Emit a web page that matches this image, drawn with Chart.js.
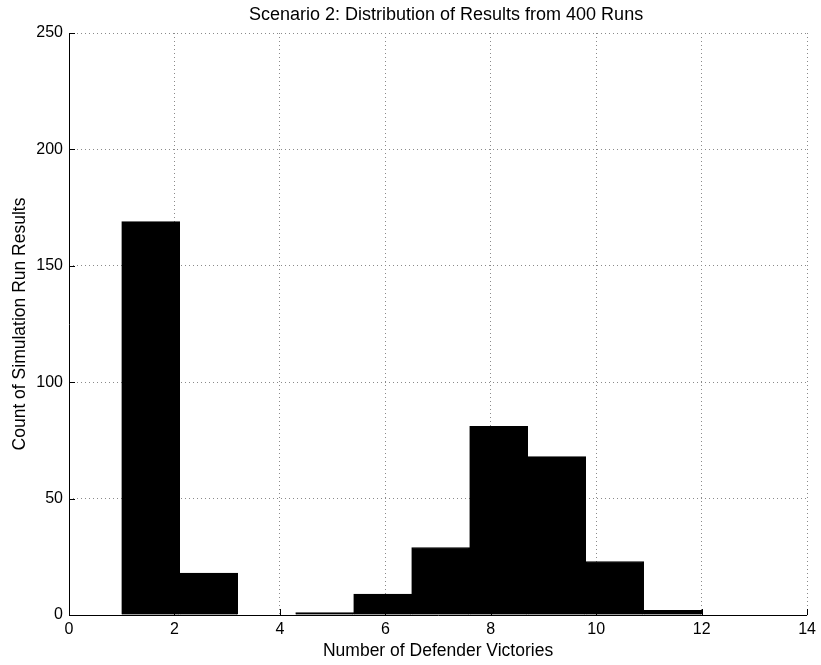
<!DOCTYPE html>
<html>
<head>
<meta charset="utf-8">
<script src="https://cdn.jsdelivr.net/npm/chart.js@4.4.1/dist/chart.umd.min.js"></script>
<style>
  body { margin: 0; background: #fff; }
  canvas { display: block; }
</style>
</head>
<body>
<canvas id="hist" width="821" height="665"></canvas>
<script>
// histogram bins (centres of 10 equal bins from 1 to 12) and counts
var binCenters = [1.55, 2.65, 3.75, 4.85, 5.95, 7.05, 8.15, 9.25, 10.35, 11.45];
var counts = [169, 18, 0, 1, 9, 29, 81, 68, 23, 2];
var xTicks = [0, 2, 4, 6, 8, 10, 12, 14];
var yTicks = [0, 50, 100, 150, 200, 250];

var family = "'Liberation Sans', Arial, sans-serif";
var tickFont = { family: family, size: 16 };
var labelFont = { family: family, size: 17.5 };

// matlab-like inward tick marks on the left and bottom axes
var innerTicks = {
    id: 'innerTicks',
    afterLayout: function (chart) {
        // title sits a little right of the plot centre in the original
        if (chart.titleBlock) {
            chart.titleBlock.left += 8;
            chart.titleBlock.right += 8;
        }
    },
    afterDatasetsDraw: function (chart) {
        var ctx = chart.ctx;
        var a = chart.chartArea;
        var xs = chart.scales.x, ys = chart.scales.y;
        ctx.save();
        ctx.strokeStyle = '#000';
        ctx.lineWidth = 1;
        ctx.beginPath();
        xTicks.forEach(function (v) {
            var px = Math.round(xs.getPixelForValue(v)) + 0.5;
            ctx.moveTo(px, a.bottom);
            ctx.lineTo(px, a.bottom - 6);
        });
        yTicks.forEach(function (v) {
            var py = Math.round(ys.getPixelForValue(v)) + 0.5;
            ctx.moveTo(a.left, py);
            ctx.lineTo(a.left + 6, py);
        });
        ctx.stroke();
        // axis lines on top of the bars
        ctx.beginPath();
        ctx.moveTo(a.left + 0.5, a.top);
        ctx.lineTo(a.left + 0.5, a.bottom + 0.5);
        ctx.lineTo(a.right, a.bottom + 0.5);
        ctx.stroke();
        ctx.restore();
    }
};

var ctx = document.getElementById('hist');
var chart = new Chart(ctx, {
    type: 'bar',
    data: {
        datasets: [{
            data: binCenters.map(function (x, i) { return { x: x, y: counts[i] }; }),
            backgroundColor: '#000',
            borderColor: '#000',
            borderWidth: 1,
            barPercentage: 1,
            categoryPercentage: 1
        }]
    },
    options: {
        responsive: false,
        animation: false,
        layout: { padding: { right: 13 } },
        plugins: {
            legend: { display: false },
            tooltip: { enabled: false },
            title: {
                display: true,
                fullSize: false,
                text: 'Scenario 2: Distribution of Results from 400 Runs',
                color: '#000',
                font: { family: family, size: 18, weight: 'normal' },
                padding: { top: 4, bottom: 7.4 }
            }
        },
        scales: {
            x: {
                type: 'linear',
                min: 0,
                max: 14,
                offset: false,
                afterBuildTicks: function (s) { s.ticks = xTicks.map(function (v) { return { value: v }; }); },
                afterFit: function (s) { s.height = 50; },
                ticks: { color: '#000', font: tickFont, padding: 5, maxRotation: 0 },
                grid: { color: '#8a8a8a', offset: false, drawTicks: false },
                border: { display: false, dash: [1, 3] },
                title: {
                    display: true,
                    text: 'Number of Defender Victories',
                    color: '#000',
                    font: labelFont,
                    padding: { bottom: 3.5 }
                }
            },
            y: {
                min: 0,
                max: 250,
                afterBuildTicks: function (s) { s.ticks = yTicks.map(function (v) { return { value: v }; }); },
                afterFit: function (s) { s.width = 69; },
                ticks: { color: '#000', font: tickFont, padding: 6 },
                grid: { color: '#8a8a8a', drawTicks: false },
                border: { display: false, dash: [1, 3] },
                title: {
                    display: true,
                    text: 'Count of Simulation Run Results',
                    color: '#000',
                    font: labelFont,
                    padding: { top: 10 }
                }
            }
        }
    },
    plugins: [innerTicks]
});
</script>
</body>
</html>
